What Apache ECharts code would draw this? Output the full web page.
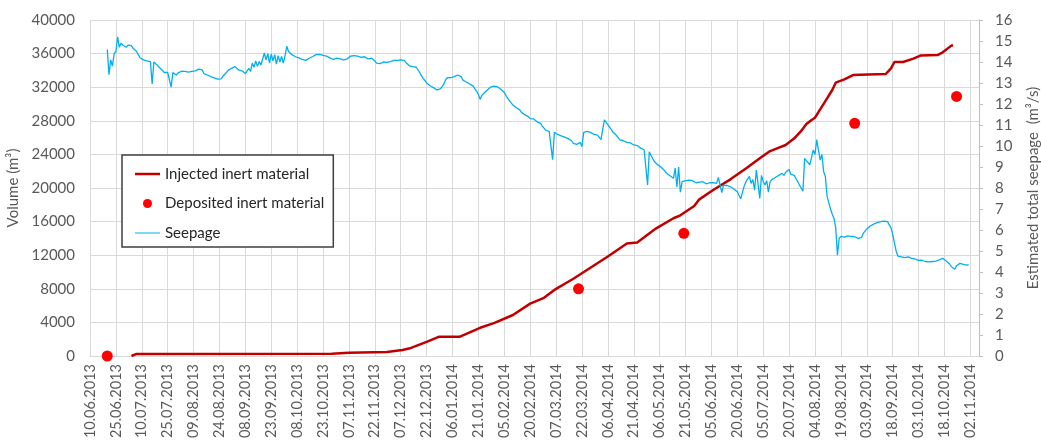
<!DOCTYPE html>
<html>
<head>
<meta charset="utf-8">
<script src="https://cdn.jsdelivr.net/npm/echarts@6/dist/echarts.min.js"></script>
<style>
  html, body { margin: 0; padding: 0; background: #ffffff; }
  #chart { width: 1041px; height: 441px; }
</style>
</head>
<body>
<div id="chart"></div>
<script>
// Day 0 of the horizontal axis; ticks every 15 days from here.
const axisStart = '2013-06-10';

// Injected inert material, cumulative volume (m³)
const injectedDates = [
  '2013-07-04', '2013-07-07', '2013-10-28', '2013-11-07', '2013-11-29', '2013-12-08',
  '2013-12-13', '2013-12-22', '2013-12-29', '2014-01-10', '2014-01-22', '2014-01-30',
  '2014-02-10', '2014-02-20', '2014-02-28', '2014-03-07', '2014-03-17', '2014-04-06',
  '2014-04-17', '2014-04-23', '2014-05-04', '2014-05-14', '2014-05-18', '2014-05-26',
  '2014-05-29', '2014-06-06', '2014-06-16', '2014-06-26', '2014-07-03', '2014-07-09',
  '2014-07-13', '2014-07-18', '2014-07-23', '2014-07-27', '2014-07-30', '2014-08-02',
  '2014-08-04', '2014-08-07', '2014-08-11', '2014-08-14', '2014-08-16', '2014-08-21',
  '2014-08-26', '2014-08-30', '2014-09-14', '2014-09-17', '2014-09-19', '2014-09-24',
  '2014-09-30', '2014-10-04', '2014-10-14', '2014-10-17', '2014-10-22', '2014-10-23'
];
const injectedVolume = [
  0, 250, 260, 380, 480, 720,
  960, 1680, 2280, 2280, 3360, 3920,
  4880, 6240, 6920, 8000, 9200, 11840,
  13400, 13520, 15200, 16400, 16750, 17860,
  18650, 19760, 21030, 22460, 23530, 24400,
  24720, 25120, 25910, 26790, 27620, 28100,
  28370, 29360, 30670, 31670, 32540, 32930,
  33450, 33490, 33570, 34250, 35000, 35000,
  35400, 35760, 35830, 36150, 36950, 36950
];

// Deposited inert material, surveyed volume (m³)
const depositedDates = ['2013-06-20', '2014-03-20', '2014-05-20', '2014-08-27', '2014-10-25'];
const depositedVolume = [0, 8000, 14600, 27700, 30900];

// Estimated total seepage (m³/s), one value per day from seepageStart
const seepageStart = '2013-06-20';
const seepageDaily = [
  14.6, 13.4, 14.1, 13.8, 14.4, 14.5, 15.2, 14.7, 14.9, 14.8,
  14.85, 14.7, 14.8, 14.72, 14.78, 14.65, 14.6, 14.5, 14.35, 14.2,
  14.15, 14.1, 14.12, 14.05, 14.08, 14.02, 12.95, 14.0, 13.95, 13.85,
  13.75, 13.7, 13.6, 13.5, 13.42, 13.5, 13.58, 12.8, 13.5, 13.45,
  13.38, 13.48, 13.52, 13.56, 13.5, 13.55, 13.6, 13.52, 13.58, 13.55,
  13.6, 13.58, 13.64, 13.66, 13.7, 13.62, 13.45, 13.4, 13.38, 13.35,
  13.3, 13.28, 13.24, 13.22, 13.18, 13.25, 13.2, 13.32, 13.4, 13.5,
  13.6, 13.55, 13.7, 13.65, 13.78, 13.7, 13.62, 13.55, 13.58, 13.5,
  13.45, 13.48, 13.7, 13.55, 13.95, 13.75, 14.05, 13.8, 14.02, 13.85,
  13.9, 14.43, 14.1, 14.4, 13.95, 14.38, 14.05, 14.35, 13.9, 14.3,
  14.0, 14.27, 13.95, 14.3, 14.75, 14.5, 14.42, 14.35, 14.3, 14.25,
  14.22, 14.2, 14.15, 14.12, 14.05, 14.08, 14.12, 14.18, 14.22, 14.26,
  14.3, 14.35, 14.38, 14.36, 14.4, 14.32, 14.3, 14.28, 14.22, 14.2,
  14.16, 14.12, 14.2, 14.18, 14.22, 14.15, 14.18, 14.1, 14.11, 14.15,
  14.22, 14.28, 14.32, 14.3, 14.25, 14.28, 14.22, 14.22, 14.18, 14.25,
  14.2, 14.15, 14.22, 14.19, 14.12, 14.05, 13.95, 13.87, 13.92, 13.98,
  14.0, 14.03, 13.98, 14.06, 14.02, 14.05, 14.08, 14.12, 14.08, 14.1,
  14.1, 14.05, 14.08, 13.98, 13.9, 13.82, 13.88, 13.78, 13.72, 13.75,
  13.67, 13.5, 13.35, 13.22, 13.12, 13.0, 12.95, 12.87, 12.82, 12.78,
  12.72, 12.67, 12.6, 12.72, 12.78, 12.95, 13.15, 13.25, 13.28, 13.26,
  13.3, 13.3, 13.32, 13.38, 13.41, 13.3, 13.14, 13.1, 13.05, 13.0,
  12.95, 12.9, 12.85, 12.72, 12.6, 12.45, 12.22, 12.4, 12.5, 12.59,
  12.65, 12.72, 12.8, 12.83, 12.85, 12.78, 12.82, 12.75, 12.7, 12.65,
  12.55, 12.4, 12.27, 12.2, 12.05, 11.95, 11.9, 11.82, 11.85, 11.72,
  11.6, 11.55, 11.48, 11.5, 11.4, 11.3, 11.35, 11.29, 11.22, 11.15,
  11.1, 11.08, 10.95, 10.85, 10.75, 10.68, 10.7, 10.62, 9.35, 10.65,
  10.6, 10.55, 10.52, 10.48, 10.5, 10.42, 10.37, 10.35, 10.3, 10.25,
  10.12, 10.05, 10.08, 10.15, 10.17, 9.97, 10.65, 10.6, 10.7, 10.62,
  10.65, 10.6, 10.55, 10.58, 10.52, 10.45, 10.3, 10.24, 11.24, 11.13,
  11.05, 10.9, 10.78, 10.65, 10.6, 10.5, 10.4, 10.29, 10.32, 10.25,
  10.2, 10.17, 10.12, 10.15, 10.08, 10.05, 10.0, 10.02, 9.95, 9.9,
  9.88, 9.82, 9.78, 8.15, 9.72, 9.55, 9.4, 9.25, 9.18, 9.1,
  9.02, 8.98, 8.9, 8.82, 8.7, 8.62, 8.58, 8.52, 8.46, 8.95,
  8.05, 9.0, 7.8, 8.3, 8.25, 8.35, 8.3, 8.38, 8.4, 8.35,
  8.3, 8.25, 8.22, 8.28, 8.32, 8.3, 8.24, 8.2, 8.28, 8.25,
  8.22, 8.26, 8.2, 8.22, 8.5, 8.15, 7.78, 8.14, 8.1, 8.12,
  8.08, 8.06, 8.0, 7.95, 7.9, 7.82, 7.75, 7.48, 7.8, 8.1,
  8.3, 8.38, 8.55, 8.22, 8.4, 7.9, 8.85, 8.2, 7.5, 8.6,
  8.3, 8.14, 8.35, 7.8, 8.3, 8.4, 8.46, 8.5, 8.55, 8.6,
  8.62, 8.7, 8.6, 8.75, 8.7, 8.88, 8.65, 8.57, 8.6, 8.45,
  8.3, 8.14, 8.0, 7.85, 9.41, 9.3, 9.25, 9.1, 9.02, 9.81,
  9.6, 10.3, 9.8, 9.33, 9.6, 8.78, 8.54, 7.6, 7.3, 7.0,
  6.75, 6.55, 6.1, 4.8, 5.6, 5.7, 5.62, 5.66, 5.68, 5.72,
  5.75, 5.7, 5.72, 5.68, 5.64, 5.6, 5.58, 5.65, 5.85, 5.95,
  6.05, 6.12, 6.19, 6.22, 6.28, 6.32, 6.35, 6.38, 6.4, 6.45,
  6.42, 6.48, 6.4, 6.35, 6.1, 5.8, 5.4, 5.0, 4.76, 4.8,
  4.72, 4.75, 4.68, 4.7, 4.72, 4.7, 4.65, 4.6, 4.62, 4.57,
  4.55, 4.52, 4.56, 4.54, 4.5, 4.52, 4.48, 4.49, 4.5, 4.52,
  4.52, 4.55, 4.58, 4.62, 4.65, 4.6, 4.52, 4.49, 4.38, 4.25,
  4.18, 4.13, 4.3, 4.35, 4.41, 4.38, 4.36, 4.4, 4.33, 4.35
];

// Axis settings
const dayStep = 15;
const dayMax = 515;
const volumeMax = 40000, volumeStep = 4000;
const seepageMax = 16, seepageStep = 1;

const DAY_MS = 86400000;
const t0 = Date.parse(axisStart + 'T00:00:00Z');
const dayOf = s => Math.round((Date.parse(s + 'T00:00:00Z') - t0) / DAY_MS);
const pad = n => String(n).padStart(2, '0');
const dateLabel = d => {
  const t = new Date(t0 + d * DAY_MS);
  return pad(t.getUTCDate()) + '.' + pad(t.getUTCMonth() + 1) + '.' + t.getUTCFullYear();
};

const injectedData = injectedDates.map((s, i) => [dayOf(s), injectedVolume[i]]);
const depositedData = depositedDates.map((s, i) => [dayOf(s), depositedVolume[i]]);
const seepage0 = dayOf(seepageStart);
const seepageData = seepageDaily.map((v, i) => [seepage0 + i, v]);

const FONT = 'Lato';
const GRID = '#d9d9d9';
const LABEL = '#595959';

const chart = echarts.init(document.getElementById('chart'), null, { renderer: 'canvas' });
chart.setOption({
  animation: false,
  backgroundColor: '#ffffff',
  textStyle: { fontFamily: FONT },
  grid: { left: 90, right: 62, top: 20, bottom: 85, outerBoundsMode: 'none', containLabel: false },
  legend: {
    orient: 'vertical',
    left: 122,
    top: 155,
    padding: [11, 9, 6, 13],
    itemGap: 13.5,
    itemWidth: 25,
    itemHeight: 16,
    borderColor: '#404040',
    borderWidth: 1.5,
    backgroundColor: '#ffffff',
    itemStyle: { borderWidth: 0 },
    textStyle: { fontFamily: FONT, fontSize: 15, color: '#262626', lineHeight: 16 },
    data: [
      { name: 'Injected inert material', icon: 'path://M0 0M25 16M0 6.75h25v2.5h-25z', itemStyle: { borderWidth: 0 } },
      { name: 'Deposited inert material', icon: 'path://M0 0M25 16M8 8a4.5 4.5 0 1 0 9 0a4.5 4.5 0 1 0 -9 0z', itemStyle: { borderWidth: 0, opacity: 1 } },
      { name: 'Seepage', icon: 'path://M0 0M25 16M0 7.5h25v1h-25z', itemStyle: { borderWidth: 0 } }
    ]
  },
  xAxis: {
    type: 'value',
    min: 0,
    max: dayMax,
    interval: dayStep,
    axisLine: { show: true, lineStyle: { color: GRID, width: 1 } },
    axisTick: { show: false },
    splitLine: { show: true, lineStyle: { color: GRID, width: 1 } },
    axisLabel: {
      rotate: 90,
      margin: 8,
      fontSize: 14.5,
      color: LABEL,
      showMaxLabel: false,
      formatter: v => (v % dayStep === 0 ? dateLabel(v) : '')
    }
  },
  yAxis: [
    {
      type: 'value',
      min: 0,
      max: volumeMax,
      interval: volumeStep,
      name: 'Volume (m³)',
      nameLocation: 'middle',
      nameRotate: 90,
      nameGap: 53,
      nameTextStyle: { fontFamily: FONT, fontSize: 15, color: LABEL },
      axisLine: { show: false },
      axisTick: { show: false },
      axisLabel: { fontSize: 15, color: LABEL, margin: 15, formatter: v => String(v) },
      splitLine: { show: true, lineStyle: { color: GRID, width: 1 } }
    },
    {
      type: 'value',
      position: 'right',
      min: 0,
      max: seepageMax,
      interval: seepageStep,
      name: 'Estimated total seepage  (m³/s)',
      nameLocation: 'middle',
      nameRotate: 90,
      nameGap: 47,
      nameTextStyle: { fontFamily: FONT, fontSize: 15, color: LABEL },
      axisLine: { show: true, lineStyle: { color: '#bfbfbf', width: 1 } },
      axisTick: { show: true, length: 4, lineStyle: { color: '#bfbfbf' } },
      axisLabel: { fontSize: 15, color: LABEL, margin: 16, align: 'left', formatter: v => String(v) },
      splitLine: { show: false }
    }
  ],
  series: [
    {
      name: 'Injected inert material',
      type: 'line',
      yAxisIndex: 0,
      data: injectedData,
      symbol: 'none',
      itemStyle: { color: '#c00000' },
      lineStyle: { color: '#c00000', width: 2.5 },
      z: 2
    },
    {
      name: 'Deposited inert material',
      type: 'scatter',
      yAxisIndex: 0,
      data: depositedData,
      symbol: 'circle',
      symbolSize: 11,
      clip: false,
      itemStyle: { color: '#ff0000', opacity: 1 },
      z: 3
    },
    {
      name: 'Seepage',
      type: 'line',
      yAxisIndex: 1,
      data: seepageData,
      symbol: 'none',
      itemStyle: { color: '#00b0f0' },
      lineStyle: { color: '#00b0f0', width: 1.3 },
      z: 4
    }
  ]
});
</script>
</body>
</html>
